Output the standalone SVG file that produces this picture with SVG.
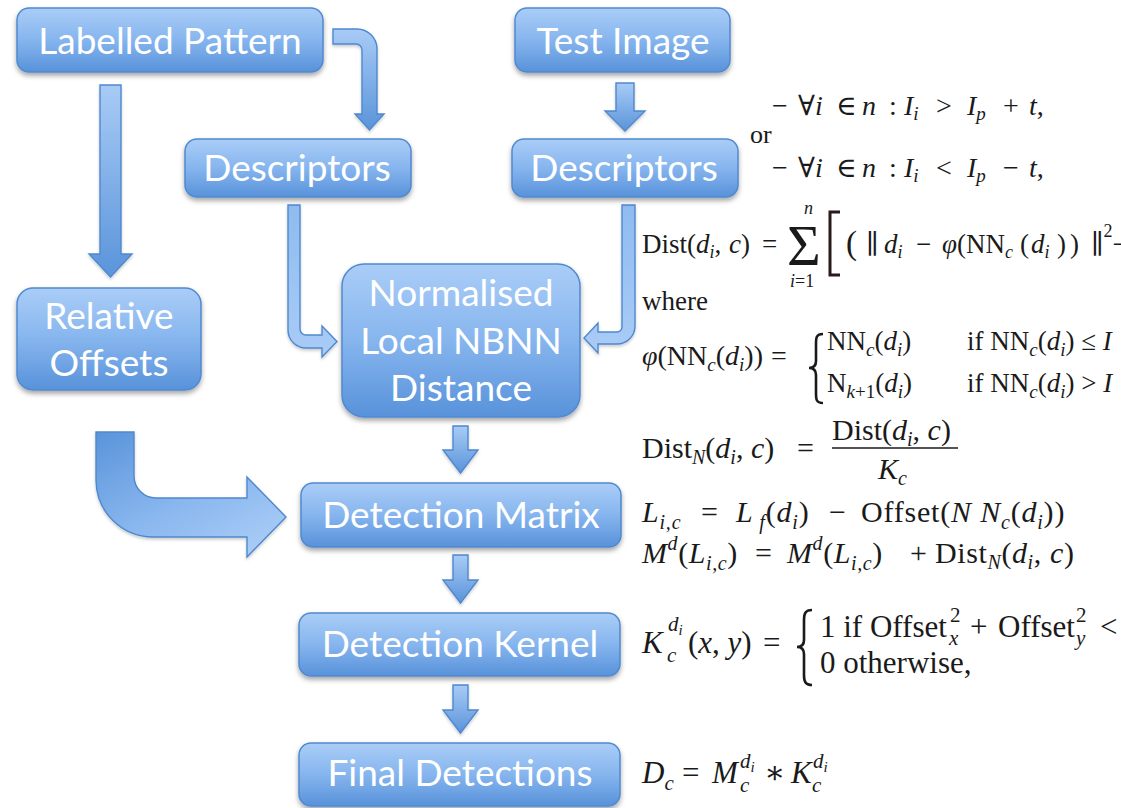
<svg xmlns="http://www.w3.org/2000/svg" width="1121" height="808" viewBox="0 0 1121 808">
  <defs>
    <linearGradient id="boxFill" x1="0" y1="0" x2="0" y2="1">
      <stop offset="0" stop-color="#aacdf7"/>
      <stop offset="0.5" stop-color="#86b5ee"/>
      <stop offset="1" stop-color="#5892da"/>
    </linearGradient>
    <linearGradient id="arrowV" x1="0" y1="0" x2="0" y2="1">
      <stop offset="0" stop-color="#a8cbf6"/>
      <stop offset="1" stop-color="#5a94da"/>
    </linearGradient>
    <linearGradient id="arrowLight" x1="0" y1="0" x2="0" y2="1">
      <stop offset="0" stop-color="#8fbbf0"/>
      <stop offset="1" stop-color="#a9ccf6"/>
    </linearGradient>
    <linearGradient id="arrowBend" x1="0" y1="0" x2="0.8" y2="1">
      <stop offset="0" stop-color="#5a94da"/>
      <stop offset="0.55" stop-color="#88b6ee"/>
      <stop offset="1" stop-color="#a9ccf6"/>
    </linearGradient>
    <filter id="shadow" x="-10%" y="-20%" width="120%" height="150%">
      <feDropShadow dx="0" dy="3" stdDeviation="2.5" flood-color="#000" flood-opacity="0.35"/>
    </filter>
    <filter id="ashadow" x="-20%" y="-20%" width="140%" height="140%">
      <feDropShadow dx="0" dy="2" stdDeviation="1.5" flood-color="#000" flood-opacity="0.2"/>
    </filter>
    <style>
      .box { fill: url(#boxFill); stroke: #5089d0; stroke-width: 1.5; filter: url(#shadow); }
      .lbl { font-family: Lato, "Open Sans", sans-serif; font-size: 37px; fill: #ffffff; text-anchor: middle; }
      .arr { stroke: #4f88cf; stroke-width: 1.4; stroke-linejoin: miter; filter: url(#ashadow); }
      .m { font-family: "Liberation Serif", "DejaVu Serif", serif; fill: #1a1a1a; }
      .i { font-style: italic; }
    </style>
  </defs>

  <rect width="1121" height="808" fill="#ffffff"/>

  <!-- connectors -->
  <g id="connectors">
    <!-- Labelled Pattern -> Relative Offsets -->
    <path class="arr" fill="url(#arrowV)" d="M100,85 H121 V254 H132 L110.5,277 L89,254 H100 Z"/>
    <!-- Labelled Pattern -> Descriptors (left) -->
    <path class="arr" fill="url(#arrowV)" d="M333,29 H357 A20,20 0 0 1 377,49 V114 H384 L369.5,130 L355,114 H362 V50 A6,6 0 0 0 356,44 H333 Z"/>
    <!-- Test Image -> Descriptors (right) -->
    <path class="arr" fill="url(#arrowV)" d="M616,83 H634 V111 H645 L625,131 L605,111 H616 Z"/>
    <!-- Descriptors (left) -> Normalised Local NBNN Distance -->
    <path class="arr" fill="url(#arrowLight)" d="M288,205 H300 V329 A6,6 0 0 0 306,335 H322 V326 L337,341.5 L322,357 V348 H306 A18,18 0 0 1 288,330 Z"/>
    <!-- Descriptors (right) -> Normalised Local NBNN Distance -->
    <path class="arr" fill="url(#arrowLight)" d="M622,205 H635 V326 A18,18 0 0 1 617,344 H598 V353 L584,338 L598,323 V332 H617 A5,5 0 0 0 622,327 Z"/>
    <!-- Relative Offsets -> Detection Matrix -->
    <path class="arr" fill="url(#arrowBend)" d="M96,432 H134 V476 A22,22 0 0 0 156,498 H247 V477 L286,517 L247,557 V537 H153 A57,57 0 0 1 96,480 Z"/>
    <!-- Normalised Local NBNN Distance -> Detection Matrix -->
    <path class="arr" fill="url(#arrowV)" d="M453,426 H468 V450 H478 L460.5,473 L443,450 H453 Z"/>
    <!-- Detection Matrix -> Detection Kernel -->
    <path class="arr" fill="url(#arrowV)" d="M453,555 H468 V580 H478 L460.5,603 L443,580 H453 Z"/>
    <!-- Detection Kernel -> Final Detections -->
    <path class="arr" fill="url(#arrowV)" d="M453,685 H468 V710 H478 L460.5,733 L443,710 H453 Z"/>
  </g>

  <!-- nodes -->
  <g id="labelled-pattern">
    <rect class="box" x="17" y="8" width="306" height="64" rx="12"/>
    <text class="lbl" x="170" y="54">Labelled Pattern</text>
  </g>
  <g id="test-image">
    <rect class="box" x="515" y="8" width="215" height="64" rx="12"/>
    <text class="lbl" x="623" y="54">Test Image</text>
  </g>
  <g id="descriptors-pattern">
    <rect class="box" x="185" y="139" width="226" height="58" rx="12"/>
    <text class="lbl" x="297" y="181">Descriptors</text>
  </g>
  <g id="descriptors-test">
    <rect class="box" x="512" y="139" width="226" height="58" rx="12"/>
    <text class="lbl" x="624" y="181">Descriptors</text>
  </g>
  <g id="relative-offsets">
    <rect class="box" x="17" y="288" width="184" height="102" rx="16"/>
    <text class="lbl" x="109" y="329">Relative</text>
    <text class="lbl" x="109" y="376">Offsets</text>
  </g>
  <g id="nbnn-distance">
    <rect class="box" x="342" y="264" width="238" height="153" rx="22"/>
    <text class="lbl" x="461" y="306">Normalised</text>
    <text class="lbl" x="461" y="354">Local NBNN</text>
    <text class="lbl" x="461" y="401">Distance</text>
  </g>
  <g id="detection-matrix">
    <rect class="box" x="301" y="483" width="320" height="64" rx="12"/>
    <text class="lbl" x="461" y="528">Detection Matrix</text>
  </g>
  <g id="detection-kernel">
    <rect class="box" x="299" y="613" width="321" height="63" rx="12"/>
    <text class="lbl" x="460" y="657">Detection Kernel</text>
  </g>
  <g id="final-detections">
    <rect class="box" x="299" y="743" width="321" height="63" rx="12"/>
    <text class="lbl" x="460" y="786">Final Detections</text>
  </g>

  <!-- equations -->
  <g id="equations">
    <!-- threshold conditions -->
    <text class="m" font-size="28">
      <tspan x="772" y="115">−</tspan>
      <tspan x="798" y="115">∀</tspan><tspan class="i">i</tspan>
      <tspan x="836" y="115">∈</tspan>
      <tspan x="862" y="115" class="i">n</tspan>
      <tspan x="889" y="115">:</tspan>
      <tspan x="904" y="115" class="i">I</tspan><tspan class="i" font-size="19" y="120">i</tspan>
      <tspan x="936" y="115">&gt;</tspan>
      <tspan x="967" y="115" class="i">I</tspan><tspan class="i" font-size="19" y="120">p</tspan>
      <tspan x="1003" y="115">+</tspan>
      <tspan x="1029" y="115" class="i">t</tspan><tspan y="115">,</tspan>
    </text>
    <text class="m" font-size="26" x="750" y="143">or</text>
    <text class="m" font-size="28">
      <tspan x="772" y="177">−</tspan>
      <tspan x="798" y="177">∀</tspan><tspan class="i">i</tspan>
      <tspan x="836" y="177">∈</tspan>
      <tspan x="862" y="177" class="i">n</tspan>
      <tspan x="889" y="177">:</tspan>
      <tspan x="904" y="177" class="i">I</tspan><tspan class="i" font-size="19" y="182">i</tspan>
      <tspan x="936" y="177">&lt;</tspan>
      <tspan x="967" y="177" class="i">I</tspan><tspan class="i" font-size="19" y="182">p</tspan>
      <tspan x="1003" y="177">−</tspan>
      <tspan x="1029" y="177" class="i">t</tspan><tspan y="177">,</tspan>
    </text>

    <!-- NBNN distance sum -->
    <text class="m" font-size="27">
      <tspan x="642" y="253">Dist(</tspan><tspan class="i">d</tspan><tspan class="i" font-size="18" y="258">i</tspan><tspan y="253">,</tspan>
      <tspan x="729" y="253" class="i">c</tspan><tspan>)</tspan>
      <tspan x="762" y="253">=</tspan>
      <tspan x="787" y="265" font-size="58">Σ</tspan>
      <tspan x="804" y="214" font-size="18" class="i">n</tspan>
      <tspan x="790" y="287" font-size="18" class="i">i</tspan><tspan font-size="18">=1</tspan>
      <tspan x="846" y="254" font-size="33">(</tspan>
      <tspan x="866" y="253">∥</tspan>
      <tspan x="884" y="253" class="i">d</tspan><tspan class="i" font-size="18" y="258">i</tspan>
      <tspan x="916" y="253">−</tspan>
      <tspan x="942" y="253" class="i">φ</tspan><tspan>(NN</tspan><tspan class="i" font-size="18" y="258">c</tspan>
      <tspan x="1020" y="253">(</tspan><tspan x="1031" class="i">d</tspan><tspan class="i" font-size="18" y="258">i</tspan>
      <tspan x="1057" y="253" letter-spacing="4">))</tspan>
      <tspan x="1091" y="253">∥</tspan><tspan font-size="18" y="237">2</tspan><tspan y="253">−</tspan>
    </text>
    <path d="M840,212 H830 V275 H840" fill="none" stroke="#2a1a1a" stroke-width="3"/>
    <text class="m" font-size="27" x="642" y="310">where</text>

    <!-- phi definition -->
    <text class="m" font-size="28">
      <tspan x="642" y="365" class="i">φ</tspan><tspan>(NN</tspan><tspan class="i" font-size="19" y="371">c</tspan><tspan y="365">(</tspan><tspan class="i">d</tspan><tspan class="i" font-size="19" y="371">i</tspan><tspan y="365">))</tspan>
      <tspan x="771" y="365">=</tspan>
    </text>
    <path d="M823,334 C816,334 816,338 816,344 V361 C816,366 813,368 809,368 C813,368 816,370 816,375 V393 C816,399 816,403 823,403" fill="none" stroke="#1a1a1a" stroke-width="2.6"/>
    <text class="m" font-size="27">
      <tspan x="827" y="350">NN</tspan><tspan class="i" font-size="19" y="356">c</tspan><tspan y="350">(</tspan><tspan class="i">d</tspan><tspan class="i" font-size="19" y="356">i</tspan><tspan y="350">)</tspan>
      <tspan x="967" y="350">if NN</tspan><tspan class="i" font-size="19" y="356">c</tspan><tspan y="350">(</tspan><tspan class="i">d</tspan><tspan class="i" font-size="19" y="356">i</tspan><tspan y="350">) ≤ </tspan><tspan class="i">I</tspan>
      <tspan x="827" y="392">N</tspan><tspan class="i" font-size="19" y="398">k</tspan><tspan font-size="19">+1</tspan><tspan y="392">(</tspan><tspan class="i">d</tspan><tspan class="i" font-size="19" y="398">i</tspan><tspan y="392">)</tspan>
      <tspan x="967" y="392">if NN</tspan><tspan class="i" font-size="19" y="398">c</tspan><tspan y="392">(</tspan><tspan class="i">d</tspan><tspan class="i" font-size="19" y="398">i</tspan><tspan y="392">) &gt; </tspan><tspan class="i">I</tspan>
    </text>

    <!-- normalised distance -->
    <text class="m" font-size="30">
      <tspan x="642" y="458">Dist</tspan><tspan class="i" font-size="20" y="464">N</tspan><tspan y="458">(</tspan><tspan class="i">d</tspan><tspan class="i" font-size="20" y="464">i</tspan><tspan y="458">, </tspan><tspan class="i">c</tspan><tspan>)</tspan>
      <tspan x="797" y="458">=</tspan>
      <tspan x="832" y="440">Dist(</tspan><tspan class="i">d</tspan><tspan class="i" font-size="20" y="446">i</tspan><tspan y="440">, </tspan><tspan class="i">c</tspan><tspan>)</tspan>
      <tspan x="878" y="479" class="i">K</tspan><tspan class="i" font-size="20" y="485">c</tspan>
    </text>
    <line x1="832" y1="448" x2="958" y2="448" stroke="#1a1a1a" stroke-width="1.4"/>

    <!-- detection matrix update -->
    <text class="m" font-size="30" letter-spacing="0.8">
      <tspan x="642" y="522" class="i">L</tspan><tspan class="i" font-size="20" y="529">i,c</tspan>
      <tspan x="701" y="522">=</tspan>
      <tspan x="736" y="522" class="i">L</tspan><tspan class="i" font-size="20" y="529"> f</tspan><tspan y="522">(</tspan><tspan class="i">d</tspan><tspan class="i" font-size="20" y="529">i</tspan><tspan y="522">)</tspan>
      <tspan x="829" y="522">−</tspan>
      <tspan x="861" y="522">Offset(</tspan><tspan class="i">N N</tspan><tspan class="i" font-size="20" y="529">c</tspan><tspan y="522">(</tspan><tspan class="i">d</tspan><tspan class="i" font-size="20" y="529">i</tspan><tspan y="522">))</tspan>
    </text>
    <text class="m" font-size="30" letter-spacing="0.6">
      <tspan x="642" y="563" class="i">M</tspan><tspan class="i" font-size="20" y="550">d</tspan><tspan y="563">(</tspan><tspan class="i">L</tspan><tspan class="i" font-size="20" y="570">i,c</tspan><tspan y="563">)</tspan>
      <tspan x="755" y="563">=</tspan>
      <tspan x="787" y="563" class="i">M</tspan><tspan class="i" font-size="20" y="550">d</tspan><tspan y="563">(</tspan><tspan class="i">L</tspan><tspan class="i" font-size="20" y="570">i,c</tspan><tspan y="563">)</tspan>
      <tspan x="910" y="563">+</tspan>
      <tspan x="935" y="563">Dist</tspan><tspan class="i" font-size="20" y="569">N</tspan><tspan y="563">(</tspan><tspan class="i">d</tspan><tspan class="i" font-size="20" y="569">i</tspan><tspan y="563">, </tspan><tspan class="i">c</tspan><tspan>)</tspan>
    </text>

    <!-- detection kernel -->
    <text class="m" font-size="31">
      <tspan x="642" y="653" class="i">K</tspan>
      <tspan x="668" y="631" class="i" font-size="21">d</tspan><tspan class="i" font-size="15" y="635">i</tspan>
      <tspan x="667" y="662" class="i" font-size="21">c</tspan>
      <tspan x="688" y="653">(</tspan><tspan class="i">x</tspan><tspan>, </tspan><tspan class="i">y</tspan><tspan>)</tspan>
      <tspan x="763" y="653">=</tspan>
    </text>
    <path d="M812,610 C805,610 804,614 804,620 V640 C804,645 801,647 797,647 C801,647 804,649 804,654 V675 C804,681 805,685 812,685" fill="none" stroke="#1a1a1a" stroke-width="2.6"/>
    <text class="m" font-size="31">
      <tspan x="820" y="637">1 if Offset</tspan>
      <tspan x="950" y="622" font-size="21">2</tspan>
      <tspan x="949" y="645" font-size="21" class="i">x</tspan>
      <tspan x="970" y="637">+</tspan>
      <tspan x="998" y="637">Offset</tspan>
      <tspan x="1076" y="622" font-size="21">2</tspan>
      <tspan x="1076" y="645" font-size="21" class="i">y</tspan>
      <tspan x="1100" y="637">&lt;</tspan>
      <tspan x="820" y="673">0 otherwise,</tspan>
    </text>

    <!-- final detections -->
    <text class="m" font-size="31">
      <tspan x="642" y="783" class="i">D</tspan><tspan class="i" font-size="21" y="790">c</tspan>
      <tspan x="682" y="783">=</tspan>
      <tspan x="712" y="783" class="i">M</tspan>
      <tspan x="740" y="768" class="i" font-size="21">d</tspan><tspan class="i" font-size="15" y="772">i</tspan>
      <tspan x="740" y="792" class="i" font-size="21">c</tspan>
      <tspan x="764" y="783">∗</tspan>
      <tspan x="791" y="783" class="i">K</tspan>
      <tspan x="813" y="768" class="i" font-size="21">d</tspan><tspan class="i" font-size="15" y="772">i</tspan>
      <tspan x="812" y="792" class="i" font-size="21">c</tspan>
    </text>
  </g>
</svg>
